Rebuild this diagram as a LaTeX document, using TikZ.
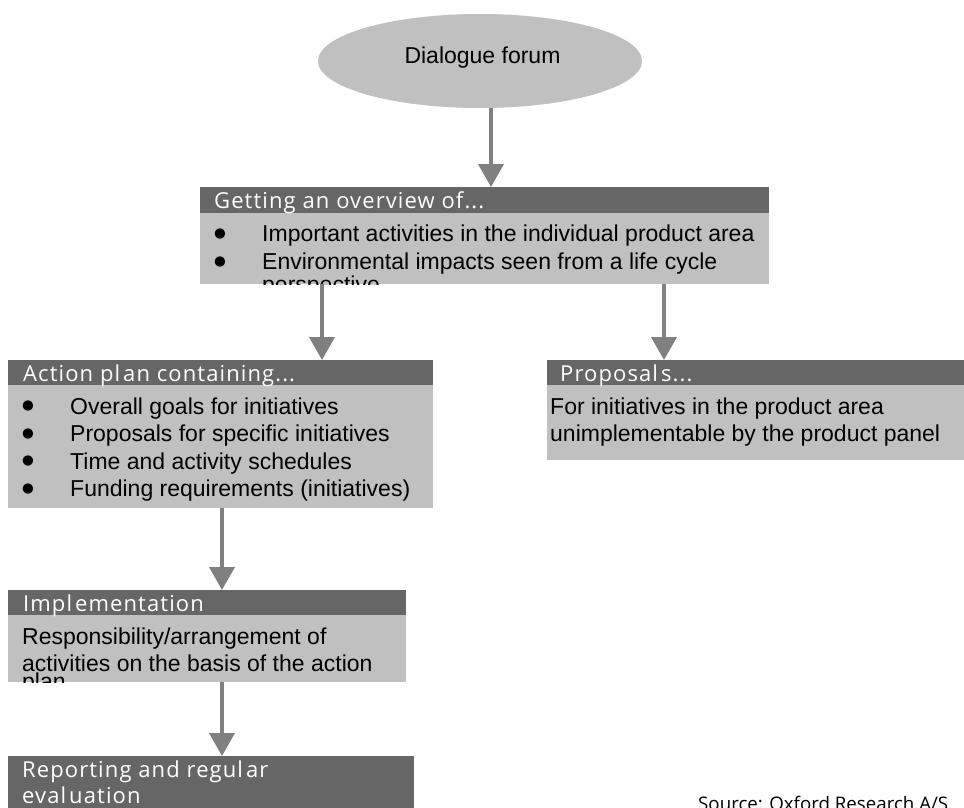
\documentclass[tikz,border=0pt]{standalone}
\usepackage{fontspec}
\setmainfont{Liberation Sans}
\newfontfamily\hdrfont{Open Sans}[LetterSpace=5]
\newfontfamily\srcfont{Open Sans}
\newfontfamily\bulfont{DejaVu Sans}
\usetikzlibrary{shapes.geometric,arrows.meta}
\definecolor{dark}{HTML}{666666}
\definecolor{light}{HTML}{C0C0C0}
\definecolor{arrowgray}{HTML}{808080}
\newcommand{\lgap}{\kern3pt}
\begin{document}
\begin{tikzpicture}[x=1pt,y=-1pt,
  hdr/.style={fill=dark, draw=none, anchor=north west, inner sep=0pt, outer sep=0pt},
  bodybox/.style={fill=light, draw=none, anchor=north west, inner sep=0pt, outer sep=0pt},
  htext/.style={anchor=base west, inner sep=0pt, text=white, font=\hdrfont\fontsize{22}{26}\selectfont},
  btext/.style={anchor=base west, inner sep=0pt, font=\fontsize{23}{27.5}\selectfont},
  bul/.style={anchor=center, inner sep=0pt, font=\bulfont\fontsize{13.5}{14}\selectfont},
  flow/.style={draw=arrowgray, line width=4pt, -{Triangle[width=25pt,length=23pt]}}
]
\useasboundingbox (0,0) rectangle (964,807);
\fill[white] (0,0) rectangle (964,807);

% ellipse
\node[ellipse, fill=light, draw=none, minimum width=324pt, minimum height=94pt, inner sep=0pt] (ell) at (480,61) {};
\node[anchor=base, inner sep=0pt, font=\fontsize{23}{27.5}\selectfont] (ellt) at (482.5,63) {Dialogue forum};

% box 1
\node[hdr, minimum width=569pt, minimum height=26pt] (b1h) at (200,187) {};
\node[bodybox, minimum width=569pt, minimum height=71pt] (b1b) at (b1h.south west) {};
\node[htext] (b1t) at (214,208) {Getting an overview of...};
\begin{scope}
\clip (b1b.north west) rectangle (b1b.south east);
\node[bul] (b1u1) at (220,233.5) {●};
\node[bul] (b1u2) at (220,261.5) {●};
\node[btext] (b1l1) at (262,241) {Important activities in the individual product area};
\node[btext] (b1l2) at (262,269) {Environmental impacts seen from a life cycle};
\node[btext] (b1l3) at (262,292) {perspective};
\end{scope}

% box 2
\node[hdr, minimum width=425pt, minimum height=25pt] (b2h) at (8,360) {};
\node[bodybox, minimum width=425pt, minimum height=123pt] (b2b) at (b2h.south west) {};
\node[htext] (b2t) at (23,381) {Action pl\lgap an containing...};
\node[bul] (b2u1) at (28,406) {●};
\node[bul] (b2u2) at (28,433.5) {●};
\node[bul] (b2u3) at (28,461) {●};
\node[bul] (b2u4) at (28,488.5) {●};
\node[btext] (b2l1) at (70,414) {Overall goals for initiatives};
\node[btext] (b2l2) at (70,441.5) {Proposals for specific initiatives};
\node[btext] (b2l3) at (70,469) {Time and activity schedules};
\node[btext] (b2l4) at (70,496.5) {Funding requirements (initiatives)};

% box 3
\node[hdr, minimum width=417pt, minimum height=25pt] (b3h) at (547,360) {};
\node[bodybox, minimum width=417pt, minimum height=75pt] (b3b) at (b3h.south west) {};
\node[htext] (b3t) at (560,381) {Proposal\lgap s...};
\node[btext] (b3l1) at (550,414) {For initiatives in the product area};
\node[btext] (b3l2) at (550,441.5) {unimplementable by the product panel};

% box 4
\node[hdr, minimum width=398pt, minimum height=25pt] (b4h) at (8,590) {};
\node[bodybox, minimum width=398pt, minimum height=67pt] (b4b) at (b4h.south west) {};
\node[htext] (b4t) at (23,611) {Impl\lgap ementation};
\begin{scope}
\clip (b4b.north west) rectangle (b4b.south east);
\node[btext] (b4l1) at (22,644) {Responsibility/arrangement of};
\node[btext] (b4l2) at (22,671.5) {activities on the basis of the action};
\node[btext] (b4l3) at (22,689.5) {plan};
\end{scope}

% box 5
\node[hdr, minimum width=406pt, minimum height=60pt] (b5h) at (8,756) {};
\node[htext] (b5l1) at (22,777) {Reporting and regul\lgap ar};
\node[htext] (b5l2) at (22,803) {eval\lgap uation};

% source
\node[anchor=base west, inner sep=0pt, font=\srcfont\fontsize{18.7}{22}\selectfont] (src) at (698,810) {Source: Oxford Research A/S};

% arrows
\coordinate (a1s) at ([xshift=11pt]ell.south);
\coordinate (a2s) at ([xshift=122pt]b1b.south west);
\coordinate (a3s) at ([xshift=464pt]b1b.south west);
\coordinate (a4s) at ([xshift=214pt]b2b.south west);
\coordinate (a5s) at ([xshift=214pt]b4b.south west);
\draw[flow] (a1s) -- (a1s |- b1h.north);
\draw[flow] (a2s) -- (a2s |- b2h.north);
\draw[flow] (a3s) -- (a3s |- b3h.north);
\draw[flow] (a4s) -- (a4s |- b4h.north);
\draw[flow] (a5s) -- (a5s |- b5h.north);
\end{tikzpicture}
\end{document}
